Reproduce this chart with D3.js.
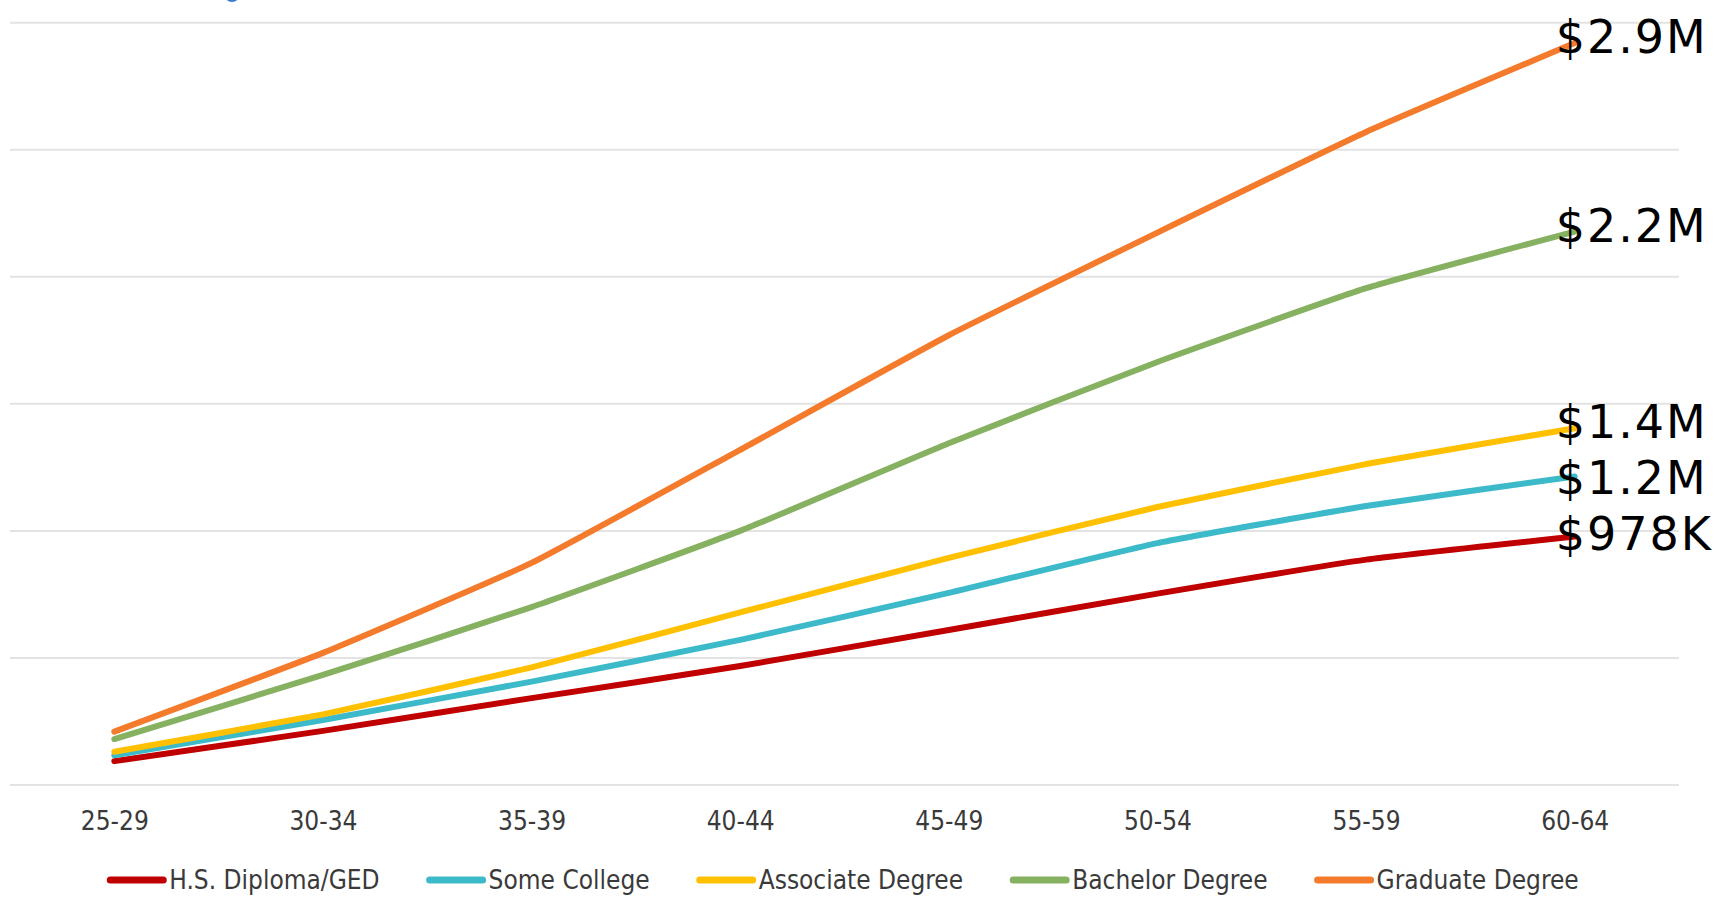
<!DOCTYPE html>
<html lang="en">
<head>
    <meta charset="UTF-8">
    <title>Cumulative Earnings by Education</title>
    <script src="https://d3js.org/d3.v7.min.js"></script>
    <style>
        body {
            margin: 0;
            background: #fff;
        }

        .axis text, .legend text {
            font-family: "DejaVu Sans Condensed", "DejaVu Sans", sans-serif;
            font-stretch: condensed;
            font-size: 26px;
            fill: #3a3a3a;
        }

        .end-label {
            font-family: "DejaVu Sans", sans-serif;
            font-size: 46px;
            letter-spacing: 2px;
            fill: #000;
        }
    </style>
</head>
<body>
    <div id="chart"></div>
    <script>
        // age groups on the x axis
        const ageGroups = ["25-29", "30-34", "35-39", "40-44", "45-49", "50-54", "55-59", "60-64"];

        // cumulative earnings, millions of dollars
        const hsDiploma = [0.094, 0.213, 0.342, 0.468, 0.610, 0.753, 0.887, 0.978];
        const someCollege = [0.117, 0.256, 0.407, 0.571, 0.756, 0.952, 1.098, 1.214];
        const associate = [0.131, 0.278, 0.463, 0.679, 0.894, 1.094, 1.263, 1.404];
        const bachelor = [0.181, 0.433, 0.700, 1.000, 1.345, 1.665, 1.955, 2.178];
        const graduate = [0.210, 0.520, 0.874, 1.319, 1.770, 2.174, 2.570, 2.920];

        const seriesNames = ["H.S. Diploma/GED", "Some College", "Associate Degree", "Bachelor Degree", "Graduate Degree"];
        const endLabels = ["$978K", "$1.2M", "$1.4M", "$2.2M", "$2.9M"];
        const colors = ["#C00000", "#3CBACA", "#FFC000", "#86B160", "#F47A2C"];

        const series = [hsDiploma, someCollege, associate, bachelor, graduate].map((values, i) => ({
            name: seriesNames[i],
            label: endLabels[i],
            color: colors[i],
            values: values
        }));

        const W = 1721, H = 899;
        const plot = { left: 10, right: 1679, top: 22.7, bottom: 785 };

        const svg = d3.select("#chart")
            .append("svg")
            .attr("width", W)
            .attr("height", H);

        const x = d3.scalePoint().domain(ageGroups).range([plot.left, plot.right]).padding(0.5);
        const y = d3.scaleLinear().domain([0, 3]).range([plot.bottom, plot.top]);

        // horizontal gridlines
        svg.append("g")
            .selectAll("line")
            .data(y.ticks(6))
            .enter().append("line")
            .attr("x1", plot.left)
            .attr("x2", plot.right)
            .attr("y1", d => y(d))
            .attr("y2", d => y(d))
            .attr("stroke", "#e3e3e3")
            .attr("stroke-width", 2);

        // small blue fragment cut off at the top edge
        svg.append("circle")
            .attr("cx", 232)
            .attr("cy", -6)
            .attr("r", 8)
            .attr("fill", "#3A7BD5");

        const xAxis = svg.append("g")
            .attr("class", "axis")
            .attr("transform", `translate(0,${plot.bottom})`)
            .call(d3.axisBottom(x).tickSize(0));
        xAxis.select(".domain").remove();
        xAxis.selectAll("text")
            .attr("y", 45)
            .attr("dy", null);

        const line = d3.line()
            .x((d, i) => x(ageGroups[i]))
            .y(d => y(d))
            .curve(d3.curveCardinal.tension(0.6));

        svg.append("g")
            .selectAll("path")
            .data(series)
            .enter().append("path")
            .attr("d", d => line(d.values))
            .attr("fill", "none")
            .attr("stroke", d => d.color)
            .attr("stroke-width", 6)
            .attr("stroke-linecap", "round")
            .attr("stroke-linejoin", "round");

        // value labels at the end of each line, nudged apart from the top down
        const lastAge = ageGroups[ageGroups.length - 1];
        const labelPos = series
            .map(s => ({ s, y: y(s.values[s.values.length - 1]) + 10 }))
            .sort((a, b) => a.y - b.y);
        labelPos.forEach((p, i) => {
            if (i > 0) p.y = Math.max(p.y, labelPos[i - 1].y + 56);
        });

        svg.append("g")
            .selectAll("text")
            .data(labelPos)
            .enter().append("text")
            .attr("class", "end-label")
            .attr("x", x(lastAge) - 19)
            .attr("y", d => d.y)
            .text(d => d.s.label);

        // legend, centred under the plot
        const legend = svg.append("g").attr("class", "legend");
        const legendY = 880;
        let cursor = 0;
        const items = legend.selectAll("g")
            .data(series)
            .enter().append("g");
        items.append("line")
            .attr("x1", 0).attr("x2", 53)
            .attr("y1", 0).attr("y2", 0)
            .attr("stroke", d => d.color)
            .attr("stroke-width", 7)
            .attr("stroke-linecap", "round");
        items.append("text")
            .attr("x", 59)
            .attr("y", 9)
            .text(d => d.name);
        items.each(function () {
            const g = d3.select(this);
            const w = 59 + g.select("text").node().getComputedTextLength();
            g.attr("transform", `translate(${cursor},0)`);
            cursor += w + 50;
        });
        const legendWidth = cursor - 50;
        legend.attr("transform", `translate(${(plot.left + plot.right) / 2 - legendWidth / 2},${legendY})`);
    </script>
</body>
</html>
